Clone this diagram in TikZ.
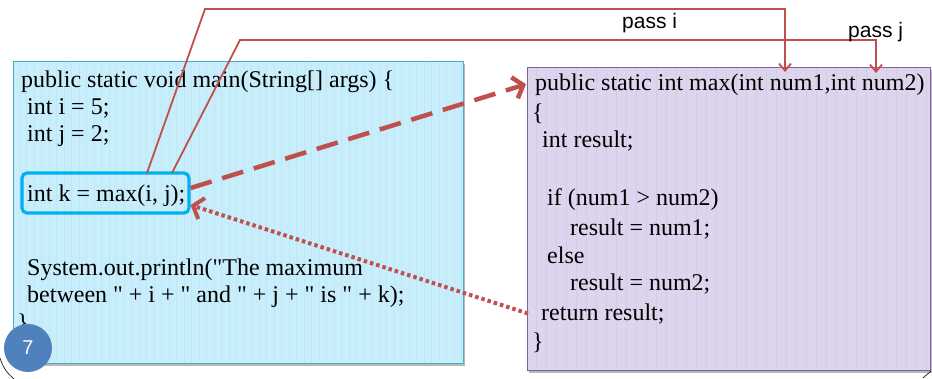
\documentclass[tikz,border=0pt]{standalone}
\usepackage{fontspec}
\setmainfont{Liberation Serif}[Ligatures=TeXOff]
\newfontfamily\labelsans{Liberation Sans}
\usetikzlibrary{arrows.meta}

\definecolor{callerfill}{HTML}{C8EEFB}
\definecolor{callerstripe}{HTML}{BFE7F6}
\definecolor{callerline}{HTML}{4BACC6}
\definecolor{calleefill}{HTML}{DDD5EE}
\definecolor{calleestripe}{HTML}{D4CBE7}
\definecolor{calleeline}{HTML}{7F63A1}
\definecolor{flowred}{HTML}{C0504D}
\definecolor{callcyan}{HTML}{00B0F0}
\definecolor{slidenum}{HTML}{4F81BD}

\tikzset{
  codeline/.style={anchor=base west, inner sep=0pt, font=\fontsize{24}{28}\selectfont},
  passlabel/.style={anchor=base west, inner sep=0pt, font=\labelsans\fontsize{21}{21}\selectfont},
  panel/.style={rectangle, inner sep=0pt},
  passline/.style={draw=flowred, line width=1.8pt,
    -{Straight Barb[length=7pt,width=12pt,line width=1.8pt]}},
  callarrow/.style={draw=flowred, line width=4.5pt, dash pattern=on 22pt off 11pt,
    -{Straight Barb[length=9pt,width=22pt,line width=4.5pt]}},
  returnarrow/.style={draw=flowred, line width=4pt, dash pattern=on 3.5pt off 3pt,
    -{Straight Barb[length=9pt,width=22pt,line width=4pt]}},
}

\begin{document}
\begin{tikzpicture}[x=1pt,y=-1pt]
\useasboundingbox (0,0) rectangle (932,378);
\fill[white] (0,0) rectangle (932,378);

% soft drop shadows under the two panels
\fill[black!28] (15,64) rectangle (465,366);
\fill[black!28] (529,70) rectangle (932,373);

% caller panel
\node (caller) [panel, fill=callerfill, minimum width=449pt, minimum height=301pt] at (238.5,212.5) {};
\begin{scope}
  \clip (14,62) rectangle (463,363);
  \foreach \x in {19,26.5,...,463} \draw[callerstripe, line width=0.8pt] (\x,62) -- (\x,363);
\end{scope}
\draw[callerline, line width=0.9pt] (caller.north west) rectangle (caller.south east);

% callee panel
\node (callee) [panel, fill=calleefill, minimum width=402pt, minimum height=302pt] at (729,219) {};
\begin{scope}
  \clip (528,68) rectangle (930,370);
  \foreach \x in {536,546,...,930} \draw[calleestripe, line width=0.9pt] (\x,68) -- (\x,370);
\end{scope}
\draw[calleeline, line width=1.3pt] (callee.north west) rectangle (callee.south east);

% caller code
\node (m1) [codeline] at (21,87)  {public static void main(String[] args) \{};
\node (m2) [codeline] at (27,114) {int i = 5;};
\node (m3) [codeline] at (27,141) {int j = 2;};
\node (m4) [codeline] at (27,201) {int k = max(i, j);};
\node (m5) [codeline] at (27,275) {System.out.println("The maximum};
\node (m6) [codeline] at (27,302) {between " + i + " and " + j + " is " + k);};
\node (m7) [codeline] at (17,330) {\}};

% callee code
\node (f1) [codeline] at (535,90)  {public static int max(int num1,int num2)};
\node (f2) [codeline] at (532,120) {\{};
\node (f3) [codeline] at (542,147) {int result;};
\node (f4) [codeline] at (547,205) {if (num1 > num2)};
\node (f5) [codeline] at (570,235) {result = num1;};
\node (f6) [codeline] at (547,263) {else};
\node (f7) [codeline] at (570,290) {result = num2;};
\node (f8) [codeline] at (541,320) {return result;};
\node (f9) [codeline] at (532,349) {\}};

% highlighted call
\node (call) [draw=callcyan, line width=3.2pt, rounded corners=5pt,
  minimum width=167pt, minimum height=40pt, inner sep=0pt] at (105.5,193) {};

% argument passing
\coordinate (argi) at (147,173);
\coordinate (argj) at (172,173);
\coordinate (num1) at (785,72);
\coordinate (num2) at (876,73);
\draw[passline] (argi) -- (205,9) -| (num1);
\draw[passline] (argj) -- (240,40) -| (num2);
\node (passi) [passlabel] at (622,28) {pass i};
\node (passj) [passlabel] at (848,37) {pass j};

% call and return flow
\draw[callarrow] ([yshift=5pt]call.east) -- ([xshift=-9pt]f1.west);
\draw[returnarrow] ([xshift=-13pt]f8.west) -- ([yshift=-12pt]call.east);

% slide number and slide frame corners
\node (slideno) [circle, fill=slidenum, minimum size=48pt, inner sep=0pt, text=white,
  font=\labelsans\fontsize{20}{20}\selectfont] at (28,348) {7};
\draw[black, line width=0.6pt] (0,358) .. controls (3,368) and (8,374) .. (14,379);
\draw[black, line width=0.6pt] (923,378) -- (931,371);
\end{tikzpicture}
\end{document}
